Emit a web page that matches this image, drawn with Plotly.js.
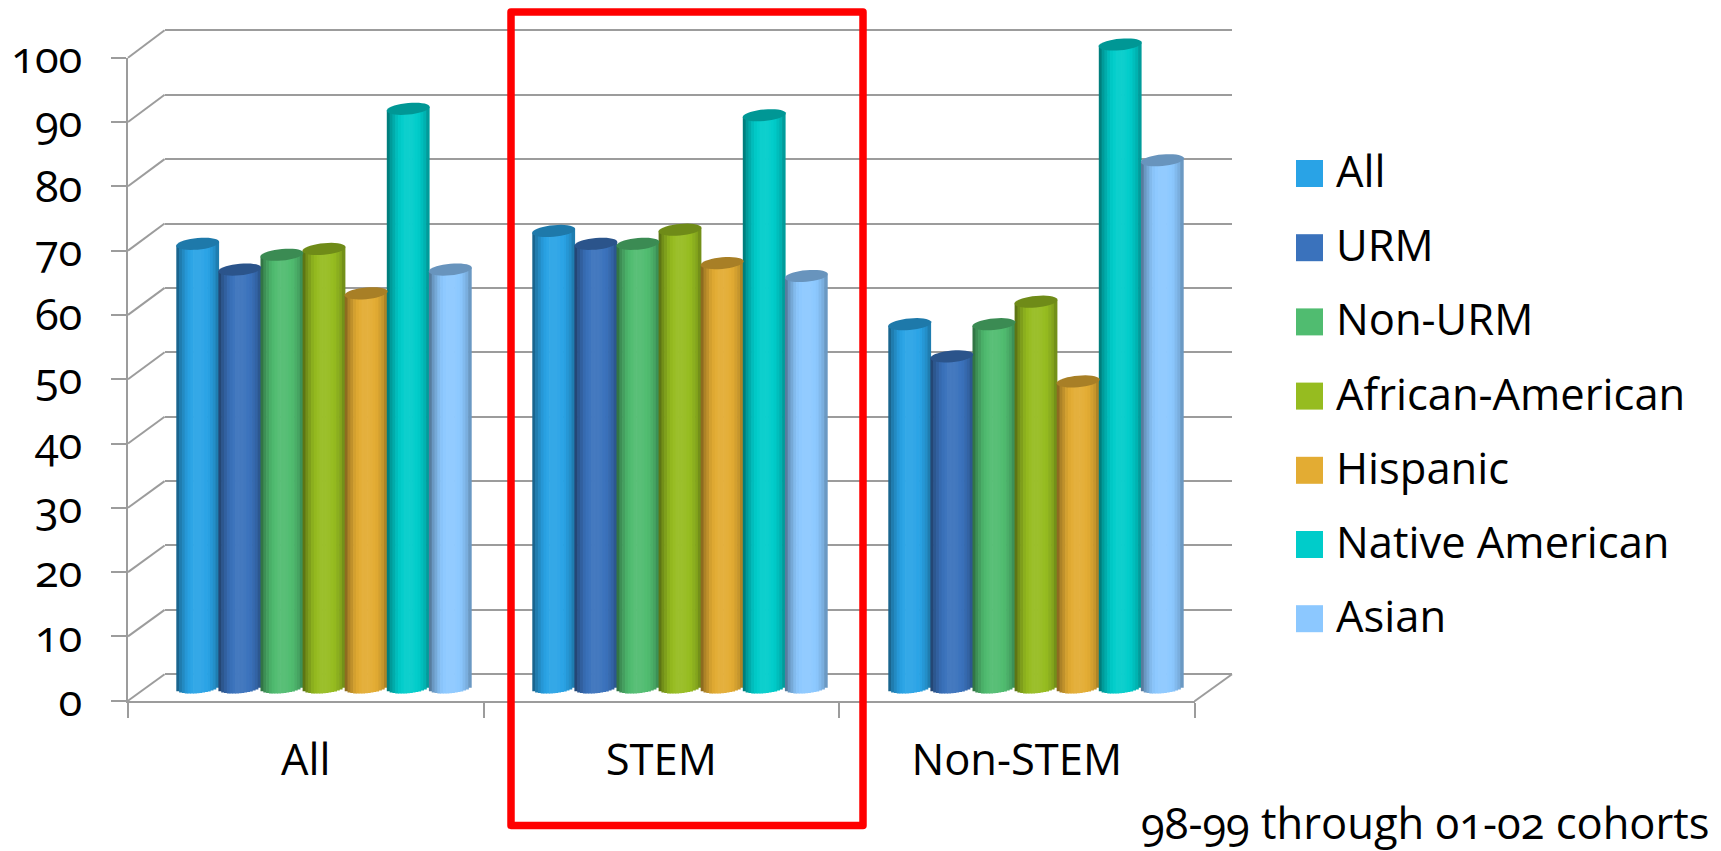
<!DOCTYPE html>
<html>
<head>
<meta charset="utf-8">
<script src="https://cdn.plot.ly/plotly-3.0.1.min.js"></script>
<style>
html,body{margin:0;padding:0;background:#fff;font-feature-settings:"onum" 1;}
text{font-feature-settings:"onum" 1;}
.shapelayer path{stroke-linejoin:round;}
</style>
</head>
<body>
<div id="chart" style="width:1721px;height:851px"></div>
<script>
// ---- data ----
const categories = ["All", "STEM", "Non-STEM"];
const seriesNames = ["All", "URM", "Non-URM", "African-American", "Hispanic", "Native American", "Asian"];
const valAll      = [69, 71, 56.5];
const valURM      = [65, 69, 51.5];
const valNonURM   = [67.3, 69, 56.5];
const valAfrAm    = [68.2, 71.2, 60];
const valHispanic = [61.3, 66, 47.6];
const valNative   = [90, 89, 100];
const valAsian    = [65, 64, 82];
const seriesValues = [valAll, valURM, valNonURM, valAfrAm, valHispanic, valNative, valAsian];
const yTicks = [0,10,20,30,40,50,60,70,80,90,100];
const note = "98-99 through 01-02 cohorts";

// ---- style and layout ----
const colors = ["#29A3E6","#3A72BC","#50BC70","#96BC20","#E3AC33","#00CCCA","#8CC8FF"];
const W = 1721, H = 851;
const FONT = "Open Sans";
const FS = 43.5;
const GRID = "#9c9c9c";
const PXU = 6.43;           // pixels per value unit
const front = {x0:128, x1:1194.5, y0:700.7, y100:57.7};
const back  = {x0:164.6, x1:1232, y0:674.3, y100:30.3};
const mid   = {y0:687.5};
const catPx = 356, cat0Px = 324, barPx = 42.1;
const STRIPS = 15, capA = 21.5, capB = 5.8, tilt = 1.9;
const fx = px => px / W, fy = py => 1 - py / H;

function mix(hex, f){
  const c=[1,3,5].map(i=>parseInt(hex.substr(i,2),16));
  const o=c.map(v=> f<=1 ? v*f : v+(255-v)*(f-1));
  return "rgb("+o.map(Math.round).join(",")+")";
}
function shade(u){
  const pts=[[-1,.55],[-.8,.76],[-.5,.95],[-.15,1.05],[.2,1.05],[.55,.98],[.85,.85],[1,.7]];
  for(let i=1;i<pts.length;i++){ if(u<=pts[i][0]){
    const t=(u-pts[i-1][0])/(pts[i][0]-pts[i-1][0]);
    return pts[i-1][1]+t*(pts[i][1]-pts[i-1][1]); } }
  return pts[pts.length-1][1];
}

const traces = [];
traces.push({type:"scatter",mode:"none",x:[0],y:[0],xaxis:"x",yaxis:"y",hoverinfo:"skip",showlegend:false});
const barX0 = i => (i-3)*barPx/catPx;
seriesValues.forEach((vals,i)=>{
  for(let j=0;j<STRIPS;j++){
    const u=((j+.5)/STRIPS)*2-1;
    const shift=barX0(i)+u*0.5*barPx/catPx;
    const topPx=u*tilt, botPx=capB*Math.sqrt(1-u*u)-u*tilt;
    traces.push({
      type:"bar",name:seriesNames[i],xaxis:"x2",yaxis:"y2",
      x:categories.map((c,k)=>k+shift),
      y:vals.map(v=>v+(topPx+botPx)/PXU),
      base:vals.map(()=>-botPx/PXU),
      width:(barPx/STRIPS*1.25)/catPx,
      marker:{color:mix(colors[i],shade(u)),line:{width:0},opacity:1},
      hoverinfo:"skip",showlegend:false
    });
  }
});
traces.push({type:"scatter",mode:"none",x:categories,y:categories.map(()=>0),xaxis:"x3",yaxis:"y3",hoverinfo:"skip",showlegend:false});

const shapes=[];
yTicks.forEach(v=>{
  const yf=front.y0-v*PXU, yb=back.y0-v*(back.y0-back.y100)/100;
  shapes.push({type:"line",xref:"paper",yref:"paper",x0:fx(front.x0),x1:fx(back.x0),y0:fy(yf),y1:fy(yb),line:{color:GRID,width:2},layer:"below"});
});
shapes.push({type:"line",xref:"paper",yref:"paper",x0:fx(front.x1),x1:fx(back.x1),y0:fy(front.y0+.5),y1:fy(back.y0),line:{color:GRID,width:2},layer:"below"});
seriesValues.forEach((vals,i)=>{
  vals.forEach((v,k)=>{
    let d="";
    for(let a=0;a<36;a++){
      const t=a/36*2*Math.PI, ex=capA*Math.cos(t), ey=capB*Math.sin(t)+tilt*Math.cos(t);
      const px=k+barX0(i)+ex/catPx, py=v+ey/PXU;
      d+=(a?"L":"M")+px.toFixed(5)+","+py.toFixed(3);
    }
    shapes.push({type:"path",xref:"x2",yref:"y2",path:d+"Z",fillcolor:mix(colors[i],.74),line:{width:0},layer:"above"});
  });
});
const legendY = [173.5,247.7,321.9,396.1,470.3,544.5,618.7];
seriesNames.forEach((n,i)=>{
  shapes.push({type:"rect",xref:"paper",yref:"paper",x0:fx(1296),x1:fx(1323),y0:fy(legendY[i]-13.5),y1:fy(legendY[i]+13.5),fillcolor:colors[i],line:{width:0},layer:"above"});
});
shapes.push({type:"rect",xref:"paper",yref:"paper",x0:fx(511),x1:fx(863),y0:fy(12),y1:fy(825.5),fillcolor:"rgba(0,0,0,0)",line:{color:"#ff0000",width:7.5},layer:"above"});

const annotations = seriesNames.map((n,i)=>({
  xref:"paper",yref:"paper",x:fx(1334),y:fy(legendY[i]-3),xanchor:"left",yanchor:"middle",showarrow:false,
  text:n,font:{family:FONT,size:FS,color:"#000"}
}));
annotations.push({xref:"paper",yref:"paper",x:fx(1712),y:fy(822.5),xanchor:"right",yanchor:"middle",height:57,valign:"middle",showarrow:false,
  text:note,font:{family:FONT,size:FS,color:"#000"}});

const layout={
  width:W,height:H,autosize:false,margin:{l:0,r:0,t:0,b:0},
  paper_bgcolor:"#fff",plot_bgcolor:"rgba(0,0,0,0)",barmode:"overlay",showlegend:false,
  font:{family:FONT,color:"#000"},
  xaxis:{domain:[fx(back.x0),fx(back.x1)],range:[0,1],visible:false},
  yaxis:{domain:[fy(back.y0+2*PXU),fy(back.y100-2*PXU)],range:[-2,102],anchor:"x",tickvals:yTicks,showgrid:true,gridcolor:GRID,gridwidth:2,
         showline:false,zeroline:false,ticks:"",showticklabels:false},
  xaxis2:{domain:[fx(cat0Px-catPx/2),fx(cat0Px+2.5*catPx)],range:[-.5,2.5],visible:false,anchor:"y2"},
  yaxis2:{domain:[fy(mid.y0+2*PXU),fy(mid.y0-104*PXU)],range:[-2,104],visible:false,anchor:"x2"},
  xaxis3:{domain:[fx(front.x0),fx(front.x1)],type:"category",categoryorder:"array",categoryarray:categories,range:[-.5,2.5],anchor:"y3",
          showline:true,linecolor:GRID,linewidth:2.5,ticks:"outside",ticklen:15,tickwidth:2,tickcolor:GRID,tickson:"boundaries",
          ticklabelstandoff:20,showgrid:false,zeroline:false,tickfont:{family:FONT,size:FS,color:"#000"}},
  yaxis3:{domain:[fy(front.y0),fy(front.y100)],range:[0,100],anchor:"x3",tickvals:yTicks,ticktext:yTicks.map(String),
          showline:true,linecolor:GRID,linewidth:2,ticks:"outside",ticklen:15,tickwidth:2,tickcolor:GRID,
          ticklabelstandoff:20,showgrid:false,zeroline:false,tickfont:{family:FONT,size:FS,color:"#000"}},
  shapes:shapes,annotations:annotations
};
Plotly.newPlot("chart",traces,layout,{displayModeBar:false,staticPlot:true});
</script>
</body>
</html>
